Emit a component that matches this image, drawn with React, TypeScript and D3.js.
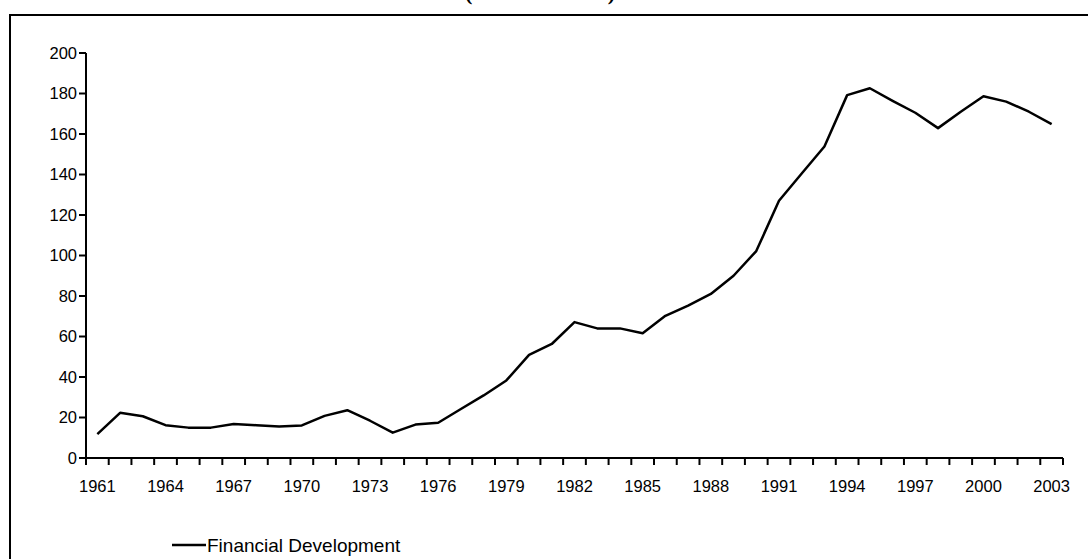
import React, { useEffect, useRef } from "react";
import * as d3 from "d3";

const years = d3.range(1961, 2004).map(String);
const values = [
  11.8, 22.3, 20.6, 16.2, 15.0, 15.0, 16.8, 16.2, 15.6, 16.1,
  20.8, 23.6, 18.4, 12.5, 16.5, 17.4, 24.2, 30.9, 38.3, 50.9,
  56.3, 67.1, 64.0, 64.0, 61.6, 70.2, 75.3, 81.0, 90.0, 102.2,
  127.0, 140.5, 153.8, 179.2, 182.6, 176.4, 170.5, 162.9, 171.0, 178.6,
  176.0, 171.0, 164.9,
];
const yTicks = [0, 20, 40, 60, 80, 100, 120, 140, 160, 180, 200];
const seriesName = "Financial Development";
const titleText = "(1961-2003)";

export default function App() {
  const ref = useRef<SVGSVGElement>(null);

  useEffect(() => {
    const width = 1088;
    const height = 559;
    const left = 86;
    const right = 1063;
    const top = 53;
    const bottom = 458;

    const svg = d3.select(ref.current);
    svg.selectAll("*").remove();
    svg.attr("width", width).attr("height", height);

    svg.append("rect").attr("width", width).attr("height", height).attr("fill", "#fff");

    // title, mostly cut off above the frame (as in the source image)
    svg
      .append("text")
      .attr("x", 540)
      .attr("y", 0)
      .attr("text-anchor", "middle")
      .attr("textLength", 150)
      .attr("lengthAdjust", "spacing")
      .style("font-family", "'Liberation Serif', serif")
      .style("font-weight", "bold")
      .style("font-size", "22px")
      .text(titleText);

    // outer frame
    svg
      .append("rect")
      .attr("x", 10)
      .attr("y", 15)
      .attr("width", 1200)
      .attr("height", 700)
      .attr("fill", "none")
      .attr("stroke", "#000")
      .attr("stroke-width", 2);

    const x = d3.scaleBand<string>().domain(years).range([left, right]);
    const y = d3.scaleLinear().domain([0, 200]).range([bottom, top]);

    const font = "'Liberation Sans', Arial, sans-serif";

    // y axis
    const gy = svg.append("g");
    gy.append("line")
      .attr("x1", left).attr("x2", left)
      .attr("y1", y(200)).attr("y2", y(0))
      .attr("stroke", "#000").attr("stroke-width", 2);
    gy.selectAll(".yt")
      .data(yTicks)
      .enter()
      .append("line")
      .attr("x1", left - 7).attr("x2", left)
      .attr("y1", (d) => y(d)).attr("y2", (d) => y(d))
      .attr("stroke", "#000").attr("stroke-width", 2);
    gy.selectAll(".yl")
      .data(yTicks)
      .enter()
      .append("text")
      .attr("x", left - 9)
      .attr("y", (d) => y(d))
      .attr("dy", "0.35em")
      .attr("text-anchor", "end")
      .style("font-family", font)
      .style("font-size", "16.5px")
      .text((d) => d);

    // x axis, ticks between categories
    const gx = svg.append("g");
    gx.append("line")
      .attr("x1", left).attr("x2", right)
      .attr("y1", bottom).attr("y2", bottom)
      .attr("stroke", "#000").attr("stroke-width", 2);
    const bounds = years.map((d) => x(d)! + x.bandwidth()).concat([left]);
    gx.selectAll(".xt")
      .data(bounds)
      .enter()
      .append("line")
      .attr("x1", (d) => d).attr("x2", (d) => d)
      .attr("y1", bottom).attr("y2", bottom + 7)
      .attr("stroke", "#000").attr("stroke-width", 2);
    gx.selectAll(".xl")
      .data(years.filter((_, i) => i % 3 === 0))
      .enter()
      .append("text")
      .attr("x", (d) => x(d)! + x.bandwidth() / 2)
      .attr("y", bottom + 28)
      .attr("dy", "0.35em")
      .attr("text-anchor", "middle")
      .style("font-family", font)
      .style("font-size", "16.5px")
      .text((d) => d);

    // series line
    const line = d3
      .line<number>()
      .x((_, i) => x(years[i])! + x.bandwidth() / 2)
      .y((d) => y(d));
    svg
      .append("path")
      .datum(values)
      .attr("d", line)
      .attr("fill", "none")
      .attr("stroke", "#000")
      .attr("stroke-width", 2.5)
      .attr("stroke-linejoin", "round");

    // legend
    const lg = svg.append("g").attr("transform", "translate(172,545)");
    lg.append("line")
      .attr("x1", 0).attr("x2", 34)
      .attr("stroke", "#000").attr("stroke-width", 2.5);
    lg.append("text")
      .attr("x", 35)
      .attr("dy", "0.35em")
      .style("font-family", font)
      .style("font-size", "19px")
      .text(seriesName);
  }, []);

  return (
    <svg
      ref={ref}
      style={{ position: "absolute", left: 0, top: 0, display: "block" }}
    ></svg>
  );
}
